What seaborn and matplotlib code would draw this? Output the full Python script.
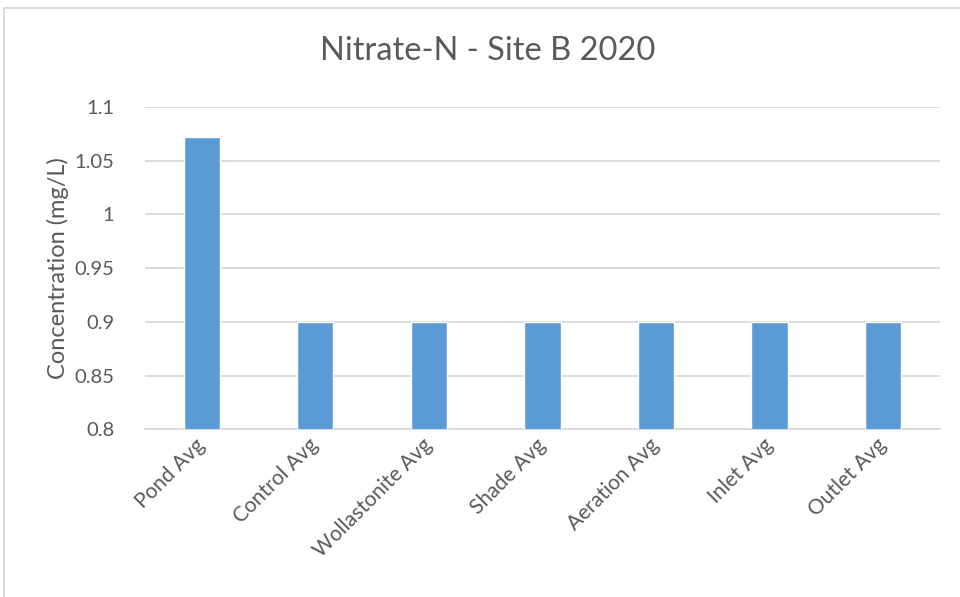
import matplotlib
matplotlib.use("Agg")
import matplotlib.pyplot as plt
import seaborn as sns
import pandas as pd
from matplotlib.patches import Rectangle

# Chart data
categories = ["Pond Avg", "Control Avg", "Wollastonite Avg", "Shade Avg",
              "Aeration Avg", "Inlet Avg", "Outlet Avg"]
concentration = [1.072, 0.9, 0.9, 0.9, 0.9, 0.9, 0.9]
y_ticks = [0.8, 0.85, 0.9, 0.95, 1.0, 1.05, 1.1]
y_tick_labels = ["0.8", "0.85", "0.9", "0.95", "1", "1.05", "1.1"]

TEXT = "#595959"
GRID = "#D9D9D9"
BAR = "#5B9BD5"

sns.set_theme(style="white")
plt.rcParams["font.family"] = ["Lato", "DejaVu Sans"]

df = pd.DataFrame({"category": categories, "value": concentration})

fig = plt.figure(figsize=(9.6, 5.97), dpi=100)
ax = fig.add_axes([0.151, 0.281, 0.828, 0.540])

sns.barplot(data=df, x="category", y="value", color=BAR, width=0.32,
            saturation=1, ax=ax, zorder=3)

ax.set_ylim(0.8, 1.1)
ax.set_yticks(y_ticks)
ax.set_yticklabels(y_tick_labels)
ax.set_xlim(-0.5, len(categories) - 0.5)
ax.yaxis.grid(True, color=GRID, linewidth=1.3, zorder=0)
ax.set_axisbelow(True)

for side in ["left", "right", "top"]:
    ax.spines[side].set_visible(False)
ax.spines["bottom"].set_color(GRID)
ax.spines["bottom"].set_linewidth(1.3)

ax.tick_params(axis="y", length=0, pad=22, labelsize=14.5, labelcolor=TEXT)
ax.tick_params(axis="x", length=0, pad=9, labelsize=15, labelcolor=TEXT)
plt.setp(ax.get_xticklabels(), rotation=45, ha="right", va="center",
         rotation_mode="anchor")

ax.set_xlabel("")
ax.set_ylabel("Concentration (mg/L)", fontsize=17, color=TEXT)
ax.yaxis.set_label_coords(-0.096, 0.5)

fig.text(0.508, 0.914, "Nitrate-N - Site B 2020", ha="center", va="center",
         fontsize=23.5, color=TEXT)

# chart border (Excel-style frame, cropped at right/bottom)
fig.patches.append(Rectangle((0.004, -0.05), 1.2, 1.037, transform=fig.transFigure,
                             fill=False, edgecolor=GRID, linewidth=1.3))

fig.savefig("out.png", dpi=100, facecolor="white")
